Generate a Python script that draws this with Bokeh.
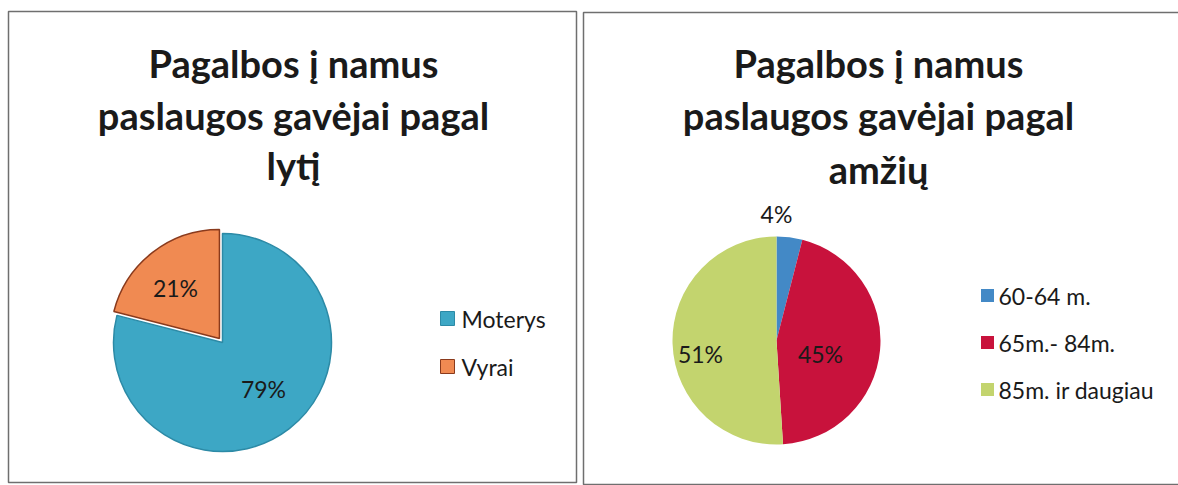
import math
from bokeh.plotting import figure
from bokeh.models import Range1d, ColumnDataSource
from bokeh.core.properties import value
from bokeh.embed import file_html
from bokeh.resources import INLINE

# ---- data ----
gender_labels = ["Moterys", "Vyrai"]
gender_values = [79, 21]
gender_colors = ["#3DA7C5", "#F08A52"]
gender_edges = ["#2C8AA6", "#8A3A1C"]

age_labels = ["60-64 m.", "65m.- 84m.", "85m. ir daugiau"]
age_values = [4, 45, 51]
age_colors = ["#4389C6", "#C8123C", "#C3D46E"]

title_left = ["Pagalbos į namus", "paslaugos gavėjai pagal", "lytį"]
title_right = ["Pagalbos į namus", "paslaugos gavėjai pagal", "amžių"]

W, H = 1178, 485
FONT = value("Lato")


def Y(ry):
    return H - ry


p = figure(width=W, height=H, x_range=Range1d(0, W), y_range=Range1d(0, H),
           output_backend="svg", toolbar_location=None, min_border=0)
p.axis.visible = False
p.grid.visible = False
p.outline_line_color = None
p.background_fill_color = "white"

# panel borders
p.quad(left=[8, 583], right=[576, 1200], bottom=[Y(482), Y(484)], top=[Y(11), Y(12)],
       fill_color=None, line_color="#6f6f6f", line_width=1.5)


def pie_angles(vals):
    tot = float(sum(vals))
    starts, ends = [], []
    cum = 0.0
    for v in vals:
        b = cum
        cum += v / tot
        starts.append(math.pi / 2 - 2 * math.pi * cum)
        ends.append(math.pi / 2 - 2 * math.pi * b)
    return starts, ends


# ---- left pie ----
cx, cy, r = 222, Y(342), 109
st, en = pie_angles(gender_values)
explode = [0, 5]
xs, ys = [], []
for s, e, ex in zip(st, en, explode):
    m = (s + e) / 2
    xs.append(cx + ex * math.cos(m))
    ys.append(cy + ex * math.sin(m))
src = ColumnDataSource(dict(x=xs, y=ys, s=st, e=en, c=gender_colors, lc=gender_edges))
p.wedge(x="x", y="y", radius=r, start_angle="s", end_angle="e", fill_color="c",
        line_color="lc", line_width=1.5, source=src)

left_label_off = [(41, -46), (-47, 55)]
p.text(x=[cx + dx for dx, dy in left_label_off], y=[cy + dy for dx, dy in left_label_off],
       text=[f"{v}%" for v in gender_values], text_font=FONT, text_font_size="23px",
       text_align="center", text_baseline="middle", text_color="#1a1a1a")

# left legend
leg_y = [Y(318), Y(366)]
p.rect(x=[447] * 2, y=leg_y, width=14, height=14, fill_color=gender_colors,
       line_color=gender_edges, line_width=1)
p.text(x=[461] * 2, y=leg_y, text=gender_labels, text_font=FONT, text_font_size="23px",
       text_align="left", text_baseline="middle", text_color="#1a1a1a")

# ---- right pie ----
cx2, cy2, r2 = 776, Y(340), 104
st2, en2 = pie_angles(age_values)
src2 = ColumnDataSource(dict(x=[cx2] * 3, y=[cy2] * 3, s=st2, e=en2, c=age_colors))
p.wedge(x="x", y="y", radius=r2, start_angle="s", end_angle="e", fill_color="c",
        line_color=None, source=src2)

right_label_off = [(0, 127), (44, -13), (-76, -13)]
p.text(x=[cx2 + dx for dx, dy in right_label_off], y=[cy2 + dy for dx, dy in right_label_off],
       text=[f"{v}%" for v in age_values], text_font=FONT, text_font_size="23px",
       text_align="center", text_baseline="middle", text_color="#1a1a1a")

leg2_y = [Y(295), Y(342), Y(389)]
p.rect(x=[987] * 3, y=leg2_y, width=13, height=13, fill_color=age_colors, line_color=None)
p.text(x=[998] * 3, y=leg2_y, text=age_labels, text_font=FONT, text_font_size="23px",
       text_align="left", text_baseline="middle", text_color="#1a1a1a")

# ---- titles ----
p.text(x=[293] * 3, y=[Y(62), Y(114), Y(164)], text=title_left, text_font=FONT,
       text_font_size="38px", text_font_style="bold", text_align="center",
       text_baseline="middle", text_color="#1a1a1a")
p.text(x=[878] * 3, y=[Y(62), Y(114), Y(168)], text=title_right, text_font=FONT,
       text_font_size="38px", text_font_style="bold", text_align="center",
       text_baseline="middle", text_color="#1a1a1a")

open("out.html", "w").write(file_html(p, INLINE))
